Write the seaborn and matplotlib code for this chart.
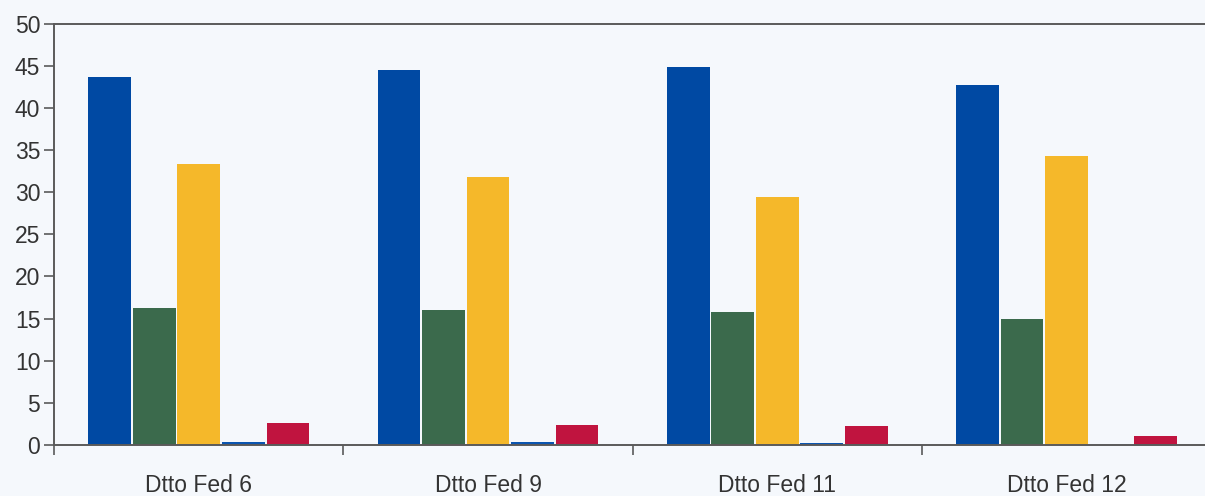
import matplotlib
matplotlib.use("Agg")
import matplotlib.pyplot as plt
import matplotlib.ticker as ticker
import seaborn as sns
import pandas as pd
import numpy as np

# data
groups = ["Dtto Fed 6", "Dtto Fed 9", "Dtto Fed 11", "Dtto Fed 12"]
series = ["A", "B", "C", "D", "E"]
vals_a = [43.7, 44.5, 44.9, 42.7]
vals_b = [16.3, 16.0, 15.8, 14.9]
vals_c = [33.3, 31.8, 29.4, 34.3]
vals_d = [0.3, 0.3, 0.25, 0.0]
vals_e = [2.6, 2.4, 2.2, 1.0]
colors = ["#0049a3", "#3b6a4c", "#f5b82a", "#0b55b0", "#c0143f"]
yticks = [0, 5, 10, 15, 20, 25, 30, 35, 40, 45, 50]

rows = []
for s, vals in zip(series, [vals_a, vals_b, vals_c, vals_d, vals_e]):
    for g, v in zip(groups, vals):
        rows.append({"group": g, "series": s, "value": v})
df = pd.DataFrame(rows)

sns.set_style("white")
plt.rcParams["font.family"] = ["Liberation Sans", "DejaVu Sans"]
fig = plt.figure(figsize=(12.05, 4.96), dpi=100)
fig.patch.set_facecolor("#f5f8fc")
ax = fig.add_axes([0.045, 0.103, 0.96, 0.849])
ax.set_facecolor("#f5f8fc")

sns.barplot(data=df, x="group", y="value", hue="series", palette=colors,
            width=0.77, gap=0.04, saturation=1, linewidth=0, ax=ax, legend=False)

ax.set_ylim(0, 50)
ax.set_xlim(-0.5, 3.5)
ax.set_yticks(yticks)
ax.set_xlabel("")
ax.set_ylabel("")

for side in ["top", "left", "bottom"]:
    ax.spines[side].set_visible(True)
    ax.spines[side].set_color("#5a5a5a")
    ax.spines[side].set_linewidth(1.4)
ax.spines["right"].set_visible(False)

ax.tick_params(axis="y", direction="out", length=7, width=1.2, color="#5a5a5a",
               labelsize=16.5, labelcolor="#333333", pad=3, left=True)
ax.tick_params(axis="x", which="major", length=0, labelsize=16.5,
               labelcolor="#333333", pad=21)
ax.xaxis.set_minor_locator(ticker.FixedLocator([-0.5, 0.5, 1.5, 2.5]))
ax.tick_params(axis="x", which="minor", direction="out", length=7, width=1.2,
               color="#5a5a5a", bottom=True)

plt.savefig("out.png", dpi=100, facecolor=fig.get_facecolor())
